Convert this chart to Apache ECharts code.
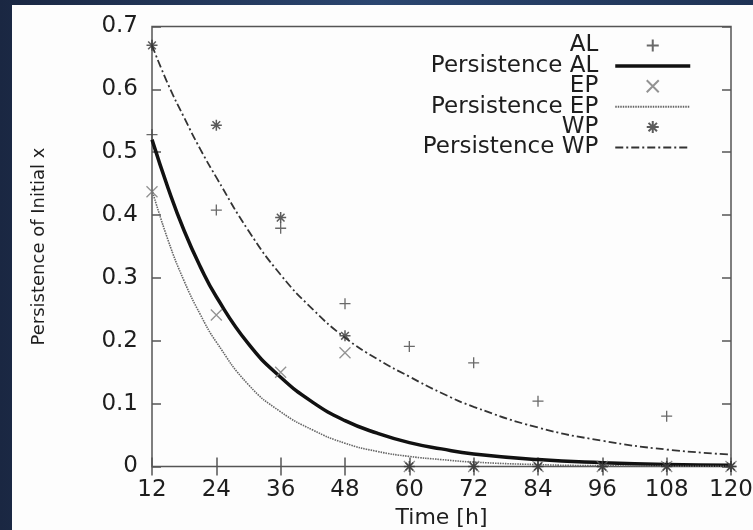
<!DOCTYPE html>
<html>
<head>
<meta charset="utf-8">
<script src="https://cdn.jsdelivr.net/npm/echarts@6/dist/echarts.min.js"></script>
<style>
html,body{margin:0;padding:0;background:#1d2c49;}
#chart{width:753px;height:530px;}
</style>
</head>
<body>
<div id="chart"></div>
<script>
// Measurement hours
var hours = [12, 24, 36, 48, 60, 72, 84, 96, 108, 120];
// Observed persistence values
var alValues = [0.528, 0.408, 0.379, 0.259, 0.191, 0.165, 0.104, 0, 0.08, 0];
var epValues = [0.437, 0.241, 0.150, 0.181, 0, 0, 0, 0, 0, 0];
var wpValues = [0.670, 0.543, 0.396, 0.208, 0, 0, 0, 0, 0, 0];
// Fitted persistence curves
var curveHours = [12, 15, 18, 21, 24, 30, 36, 42, 48, 54, 60, 66, 72, 84, 96, 108, 120];
var persAL = [0.520, 0.443, 0.375, 0.318, 0.270, 0.195, 0.142, 0.102, 0.073, 0.053, 0.038, 0.028, 0.020, 0.011, 0.006, 0.003, 0.002];
var persEP = [0.440, 0.360, 0.295, 0.242, 0.198, 0.130, 0.087, 0.058, 0.037, 0.024, 0.016, 0.011, 0.007, 0.003, 0.0012, 0.0005, 0.0002];
var persWP = [0.670, 0.608, 0.555, 0.505, 0.460, 0.375, 0.305, 0.250, 0.205, 0.171, 0.143, 0.117, 0.095, 0.062, 0.041, 0.027, 0.019];
// Axis ticks
var xTicks = [12, 24, 36, 48, 60, 72, 84, 96, 108, 120];
var yTicks = [0, 0.1, 0.2, 0.3, 0.4, 0.5, 0.6, 0.7];

function pairs(xs, ys) { return xs.map(function (x, i) { return [x, ys[i]]; }); }

var FONT = 'DejaVu Sans';
var TXT = '#1e1e1e';
var PLUS = 'path://M5 0 L5 10 M0 5 L10 5';
var CROSS = 'path://M0 0 L10 10 M10 0 L0 10';
var STAR = 'path://M5 0 L5 10 M0 5 L10 5 M1.5 1.5 L8.5 8.5 M8.5 1.5 L1.5 8.5';

var chart = echarts.init(document.getElementById('chart'));
var xAxisBase = {
  type: 'value', min: xTicks[0], max: xTicks[xTicks.length - 1], interval: 12,
  splitLine: { show: false },
  axisLine: { show: false },
  axisTick: { show: true, inside: true, length: 9, lineStyle: { color: '#555', width: 1.5 } }
};
var yAxisBase = {
  type: 'value', min: yTicks[0], max: yTicks[yTicks.length - 1], interval: 0.1,
  splitLine: { show: false },
  axisLine: { show: false },
  axisTick: { show: true, inside: true, length: 9, lineStyle: { color: '#555', width: 1.5 } }
};
var hideSym = { opacity: 0 };

chart.setOption({
  backgroundColor: {
    type: 'linear', x: 0, y: 0, x2: 1, y2: 0,
    colorStops: [{ offset: 0, color: '#1a2742' }, { offset: 0.5, color: '#2b4670' }, { offset: 1, color: '#1f3355' }]
  },
  animation: false,
  graphic: [{
    type: 'rect', z: -10, silent: true,
    shape: { x: 12, y: 5, width: 741, height: 525 },
    style: { fill: '#fdfdfd' }
  }],
  grid: {
    left: 152, right: 22, top: 26.5, bottom: 63.5,
    outerBoundsMode: 'none', containLabel: false,
    show: true, borderColor: '#555', borderWidth: 1.5, backgroundColor: 'transparent'
  },
  legend: {
    orient: 'vertical', align: 'right',
    right: 56, top: 29,
    itemWidth: 75, itemHeight: 12, itemGap: -2.6,
    textStyle: { fontFamily: FONT, fontSize: 23, color: TXT, lineHeight: 20, padding: [0, 12, 0, 0] },
    data: [
      { name: 'AL' },
      { name: 'Persistence AL', itemStyle: hideSym, lineStyle: { width: 3.5, color: '#111' } },
      { name: 'EP' },
      { name: 'Persistence EP', itemStyle: hideSym },
      { name: 'WP' },
      { name: 'Persistence WP', itemStyle: hideSym }
    ]
  },
  xAxis: [
    Object.assign({}, xAxisBase, {
      position: 'bottom',
      name: 'Time [h]', nameLocation: 'middle', nameGap: 41,
      nameTextStyle: { fontFamily: FONT, fontSize: 22, color: TXT },
      axisLabel: { margin: 12, fontFamily: FONT, fontSize: 23, color: TXT }
    }),
    Object.assign({}, xAxisBase, { position: 'top', axisLabel: { show: false } })
  ],
  yAxis: [
    Object.assign({}, yAxisBase, {
      position: 'left',
      name: 'Persistence of Initial x', nameLocation: 'middle', nameGap: 104,
      nameTextStyle: { fontFamily: FONT, fontSize: 18, color: TXT },
      axisLabel: { margin: 14, fontFamily: FONT, fontSize: 23, color: TXT }
    }),
    Object.assign({}, yAxisBase, { position: 'right', axisLabel: { show: false } })
  ],
  series: [
    {
      name: 'AL', type: 'scatter', data: pairs(hours, alValues),
      symbol: PLUS, symbolSize: 11,
      itemStyle: { color: 'none', borderColor: '#444', borderWidth: 1.3 }, z: 5
    },
    {
      name: 'Persistence AL', type: 'line', data: pairs(curveHours, persAL),
      smooth: true, showSymbol: false, symbol: 'none',
      lineStyle: { color: '#111', width: 3.5 }, itemStyle: { color: '#111' }
    },
    {
      name: 'EP', type: 'scatter', data: pairs(hours, epValues),
      symbol: CROSS, symbolSize: 11,
      itemStyle: { color: 'none', borderColor: '#777', borderWidth: 1.3 }, z: 5
    },
    {
      name: 'Persistence EP', type: 'line', data: pairs(curveHours, persEP),
      smooth: true, showSymbol: false, symbol: 'none',
      lineStyle: { color: '#666', width: 1.6, type: [1.5, 1] }, itemStyle: { color: '#666' }
    },
    {
      name: 'WP', type: 'scatter', data: pairs(hours, wpValues),
      symbol: STAR, symbolSize: 11,
      itemStyle: { color: 'none', borderColor: '#333', borderWidth: 1.5 }, z: 5
    },
    {
      name: 'Persistence WP', type: 'line', data: pairs(curveHours, persWP),
      smooth: true, showSymbol: false, symbol: 'none',
      lineStyle: { color: '#333', width: 1.8, type: [8, 3, 2, 3] }, itemStyle: { color: '#333' }
    }
  ]
});
</script>
</body>
</html>
